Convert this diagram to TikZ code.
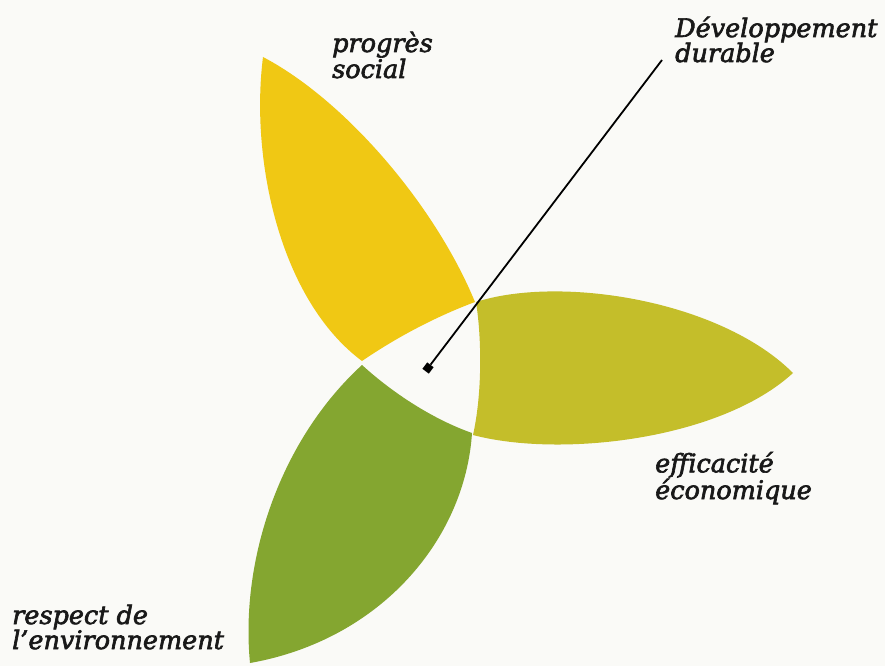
\documentclass[tikz,border=0pt]{standalone}
\usepackage{fontspec}
\setmainfont{DejaVu Serif}
\newfontfamily\labelfont{DejaVu Serif}[ItalicFeatures={FakeBold=2.5}]
\definecolor{paper}{HTML}{FAFAF7}
\definecolor{socialyellow}{HTML}{F0C814}
\definecolor{ecoolive}{HTML}{C4BE2A}
\definecolor{envgreen}{HTML}{84A630}
\begin{document}
\begin{tikzpicture}[x=1pt, y=-1pt,
  petal/.style={draw=none},
  label/.style={anchor=base west, inner sep=0pt, align=left,
    font=\labelfont\itshape\fontsize{25.5}{25}\selectfont, text=black!90},
  pin/.style={fill=black, inner sep=0pt, minimum size=8pt, rotate=53}]

\fill [paper] (0,0) rectangle (885,666);
\useasboundingbox (0,0) rectangle (885,666);

% -------- petals -----------
\fill [socialyellow, petal] (263,57) .. controls (345,100) and (435,205) .. (475,302)
  .. controls (440,315) and (400,335) .. (362,361)
  .. controls (280,300) and (250,160) .. cycle;
\fill [ecoolive, petal] (476,302) .. controls (560,275) and (720,300) .. (793,373)
  .. controls (720,440) and (560,458) .. (473,435)
  .. controls (482,395) and (482,340) .. cycle;
\fill [envgreen, petal] (362,365) .. controls (395,395) and (435,420) .. (472,433)
  .. controls (465,540) and (380,640) .. (250,663)
  .. controls (240,560) and (280,440) .. cycle;

% -------- labels (anchored on the last line) -----------
\node [label] (social) at (332,78) {progrès\\social};
\node [label] (durable) at (675,62) {Développement\\durable};
\node [label] (eco) at (655,499) {efficacité\\économique};
\node [label] (env) at (12,649) {respect de\\l’environnement};

% -------- pointer -----------
\node [pin] (centre) at (428,368) {};
\coordinate (tip) at (662,60);
\draw [line width=1.8pt] (centre) -- (tip);
\end{tikzpicture}
\end{document}
